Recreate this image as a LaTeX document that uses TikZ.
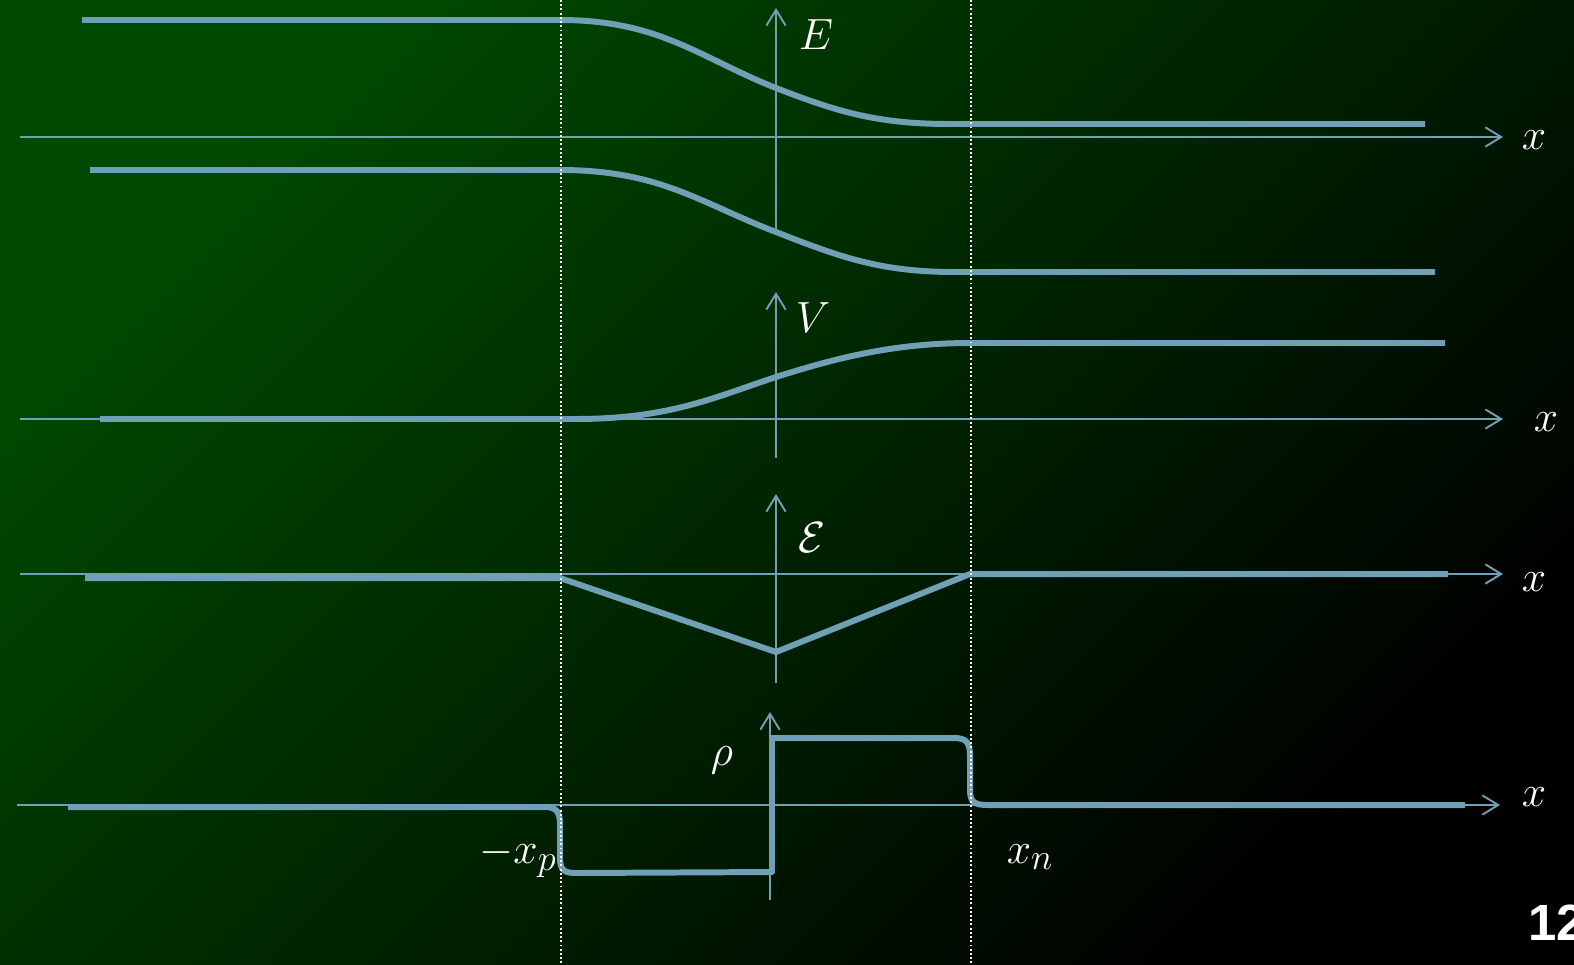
\documentclass[tikz,border=0pt]{standalone}
\usepackage{fontspec}
\usetikzlibrary{arrows.meta}
\newfontfamily\numfont{Liberation Sans}
\definecolor{bandblue}{RGB}{111,160,182}
\definecolor{bggreen}{RGB}{0,74,0}

\begin{document}
\begin{tikzpicture}[
x=0.02cm, y=-0.02cm,
axis/.style={draw=bandblue, line width=1.1pt, -{Straight Barb[length=9pt, width=11pt]}},
curve/.style={draw=bandblue, line width=3.4pt, line join=round},
edge/.style={draw=white, line width=1.1pt, dash pattern=on 1.1pt off 1.3pt},
lbl/.style={text=white, inner sep=0pt, font=\fontsize{29}{33}\selectfont}
]
\useasboundingbox (0,0) rectangle (1574,964);
\shade[shading=axis, top color=bggreen, bottom color=black, shading angle=45] (0,0) rectangle (1574,964);

% axes
\draw[axis] (20,137) -- (1503,137);
\draw[axis] (776,230) -- (776,8);
\draw[axis] (20,419) -- (1503,419);
\draw[axis] (776,458) -- (776,292);
\draw[axis] (20,574) -- (1503,574);
\draw[axis] (776,683) -- (776,494);
\draw[axis] (17,805) -- (1500,805);
\draw[axis] (770,900) -- (770,712);

% energy bands
\draw[curve] (82,20) -- (560,20) .. controls (660,20) and (700,58) .. (776,88)
  .. controls (840,113) and (880,124) .. (950,124) -- (1425,124);
\draw[curve] (90,170) -- (560,170) .. controls (660,170) and (700,203) .. (776,232)
  .. controls (840,257) and (880,272) .. (955,272) -- (1435,272);

% potential
\draw[curve] (100,419) -- (575,419) .. controls (670,419) and (715,397) .. (776,377)
  .. controls (830,360) and (890,343) .. (970,343) -- (1445,343);

% field
\draw[curve] (85,578) -- (560,578) -- (776,652) -- (970,574) -- (1448,574);

% charge density
\draw[curve] (68,807) -- (544,807) .. controls (556,807) and (560,811) .. (560,825)
  -- (560,858) .. controls (560,870) and (564,873) .. (576,873) -- (772,872)
  -- (772,738) -- (954,738) .. controls (966,738) and (970,742) .. (970,756)
  -- (970,790) .. controls (970,802) and (974,805) .. (988,805) -- (1465,805);

% depletion edges
\draw[edge] (561,0) -- (561,964);
\draw[edge] (971,0) -- (971,964);

% labels
\node[lbl] (lblE) at (816,35) {$E$};
\node[lbl] (lblx1) at (1534,140) {$x$};
\node[lbl] (lblV) at (813,318) {$V$};
\node[lbl] (lblx2) at (1546,422) {$x$};
\node[lbl] (lblF) at (812,538) {$\mathcal{E}$};
\node[lbl] (lblx3) at (1534,582) {$x$};
\node[lbl] (lblrho) at (722,760) {$\rho$};
\node[lbl] (lblx4) at (1534,797) {$x$};
\node[lbl] (lblxp) at (518,858) {$-x_p$};
\node[lbl] (lblxn) at (1030,857) {$x_n$};
\node[text=white, inner sep=0pt, anchor=base west, font=\numfont\bfseries\fontsize{29}{32}\selectfont] (page) at (1528,940) {12};

\end{tikzpicture}
\end{document}
